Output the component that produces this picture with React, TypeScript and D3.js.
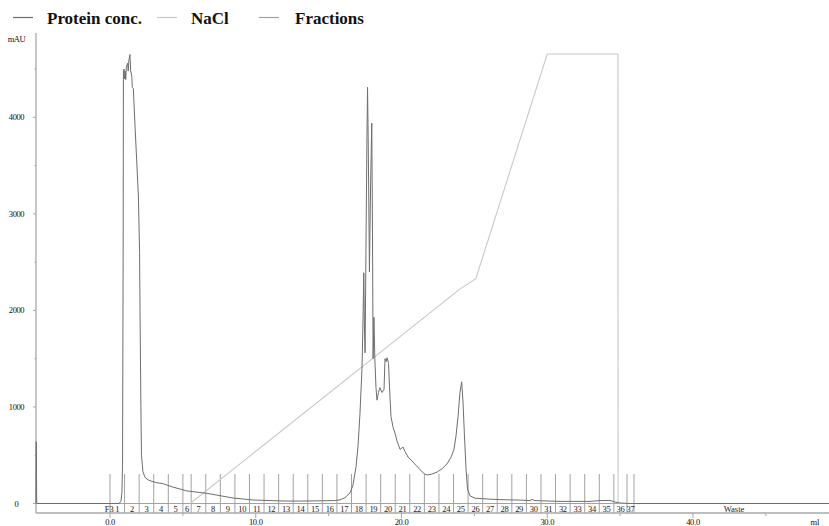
import React from "react";
import * as d3 from "d3";

// ---- Data ----
// Protein concentration (UV, mAU) vs volume (ml)
const proteinVolume = [
  -5.08, -5.06, -5.03, 0.6, 0.75, 0.82, 0.86, 0.9, 0.92, 0.96, 0.99, 1.03, 1.08, 1.12, 1.21, 1.25, 1.3, 1.37,
  1.42, 1.5, 1.53, 1.6, 1.72, 1.84, 1.95, 2.03, 2.06, 2.12, 2.16, 2.26, 2.4, 2.61, 2.95, 3.22, 3.64, 4.32,
  5.28, 6.66, 8.44, 9.81, 11.87, 13.0, 14.4, 15.4, 15.78, 16.12, 16.47, 16.67, 16.88, 17.02, 17.15, 17.29,
  17.36, 17.41, 17.45, 17.5, 17.56, 17.63, 17.67, 17.72, 17.8, 17.88, 17.96, 18.01, 18.05, 18.11, 18.17,
  18.25, 18.32, 18.42, 18.52, 18.66, 18.8, 18.87, 18.94, 19.01, 19.11, 19.21, 19.28, 19.42, 19.55, 19.69,
  19.9, 20.1, 20.24, 20.45, 20.73, 21.0, 21.27, 21.55, 21.75, 22.09, 22.44, 22.78, 23.12, 23.4, 23.6, 23.74,
  23.88, 24.01, 24.13, 24.22, 24.32, 24.43, 24.53, 24.7, 25.04, 26.07, 26.76, 28.13, 28.82, 28.95, 29.16,
  30.87, 32.93, 33.62, 34.3, 34.65, 35.0, 35.7, 49.4,
];
const proteinMAU = [
  0, 640, 0, 0, 20, 120, 400, 2500, 4450, 4500, 4400, 4480, 4390, 4520, 4560, 4480, 4600, 4650,
  4480, 4420, 4310, 4300, 3900, 3525, 3175, 2600, 2000, 1000, 500, 330, 270, 245, 225, 215, 205, 170,
  130, 105, 57, 36, 26, 25, 28, 30, 38, 60, 110, 190, 380, 600, 930, 1400,
  1900, 2390, 1900, 1560, 2600, 3800, 4310, 3700, 2400, 3300, 3940, 2800, 1500, 1930, 1500,
  1200, 1070, 1150, 1200, 1150, 1180, 1500, 1470, 1510, 1450, 1100, 900, 790, 730, 650,
  560, 585, 540, 480, 440, 395, 350, 310, 295, 305, 325, 360, 410, 480, 560, 700,
  900, 1150, 1260, 1050, 700, 350, 150, 80, 55, 45, 40, 35, 30, 42, 30,
  22, 22, 30, 32, 15, 5, 0, 0,
];

// NaCl gradient (% B) vs volume (ml)
const naclVolume = [5.5, 24.0, 25.1, 30.0, 34.85, 34.86, 49.4];
const naclPercent = [0, 47.7, 50, 100, 100, 0, 0];

// Fraction boundaries (ml) and labels
const fractionBounds = [
  0, 1, 2, 3, 4, 5, 5.57, 6.57, 7.57, 8.57, 9.57, 10.57, 11.57, 12.57, 13.57, 14.57, 15.57, 16.57, 17.57,
  18.57, 19.57, 20.57, 21.57, 22.57, 23.57, 24.57, 25.57, 26.57, 27.57, 28.57, 29.57, 30.57, 31.57,
  32.57, 33.57, 34.57, 35.47, 35.95,
];
const fractionLabels = Array.from({ length: 37 }, (_, i) => String(i + 1));
const wasteLabel = "Waste";
const preLabel = "F3";

const yTicks = [0, 1000, 2000, 3000, 4000];
const yMinorTicks = [500, 1500, 2500, 3500, 4500];
const xTicks = [0, 10, 20, 30, 40];
const xMinorTicks = [5, 15, 25, 35, 45];

const legendItems = ["Protein conc.", "NaCl", "Fractions"];

// ---- Styles ----
const W = 829;
const H = 526;
const serif = "'Liberation Serif', 'Times New Roman', serif";
const cProtein = "#6e6e6e";
const cNaCl = "#c8c8c8";
const cFrac = "#a2a2a2";
const cAxis = "#a8a8a8";

export default function App() {
  const x = d3.scaleLinear().domain([0, 40]).range([110, 693]);
  const y = d3.scaleLinear().domain([0, 4000]).range([503.5, 117.3]);
  const yNaCl = d3.scaleLinear().domain([0, 100]).range([503.5, 54]);

  const axisX = x(-5.08);
  const axisY = 513;
  const yTop = 33;
  const xRight = W;

  const protein = proteinVolume.map((v, i) => [v, proteinMAU[i]] as [number, number]);
  const nacl = naclVolume.map((v, i) => [v, naclPercent[i]] as [number, number]);

  const pLine = d3
    .line<[number, number]>()
    .x((d) => x(d[0]))
    .y((d) => y(d[1]));
  const nLine = d3
    .line<[number, number]>()
    .x((d) => x(d[0]))
    .y((d) => yNaCl(d[1]));

  const fracTop = 474;
  const zeroY = y(0);

  const legendX = [13, 157, 259];
  const legendTextX = [47, 191, 295];
  const legendColors = [cProtein, cNaCl, cFrac];

  return (
    <svg
      width={W}
      height={H}
      style={{ position: "absolute", left: 0, top: 0, background: "#fff" }}
    >
      <rect width={W} height={H} fill="#fff" />
      {/* Legend */}
      {legendItems.map((t, i) => (
        <g key={t}>
          <line
            x1={legendX[i]}
            x2={legendX[i] + 20}
            y1={17.5}
            y2={17.5}
            stroke={legendColors[i]}
            strokeWidth={1.2}
          />
          <text
            x={legendTextX[i]}
            y={24}
            fontFamily={serif}
            fontWeight="bold"
            fontSize={17}
            fill="#111"
          >
            {t}
          </text>
        </g>
      ))}

      {/* Y axis */}
      <line x1={axisX} x2={axisX} y1={yTop} y2={axisY} stroke={cAxis} strokeWidth={1.3} />
      {yTicks.map((t) => (
        <g key={t}>
          <line x1={axisX - 3} x2={axisX} y1={y(t)} y2={y(t)} stroke={cAxis} />
          <text
            x={16.5}
            y={y(t) + 3}
            textAnchor="middle"
            fontFamily={serif}
            fontSize={8.5}
            letterSpacing={-0.4}
            fill="#111"
          >
            {t}
          </text>
        </g>
      ))}
      {yMinorTicks.map((t) => (
        <line key={t} x1={axisX - 1.5} x2={axisX + 0.5} y1={y(t)} y2={y(t)} stroke={cAxis} />
      ))}
      <text x={16.5} y={41.5} textAnchor="middle" fontFamily={serif} fontSize={8.5} letterSpacing={-0.4} fill="#111">
        mAU
      </text>

      {/* X axis */}
      <line x1={axisX} x2={xRight} y1={axisY} y2={axisY} stroke={cAxis} strokeWidth={1.3} />
      {xTicks.map((t) => (
        <g key={t}>
          <line x1={x(t)} x2={x(t)} y1={axisY} y2={axisY + 5} stroke={cAxis} />
          <text
            x={x(t)}
            y={525}
            textAnchor="middle"
            fontFamily={serif}
            fontSize={8.5}
            letterSpacing={-0.3}
            fill="#111"
          >
            {t.toFixed(1)}
          </text>
        </g>
      ))}
      {xMinorTicks.map((t) => (
        <line key={t} x1={x(t)} x2={x(t)} y1={axisY} y2={axisY + 3} stroke={cAxis} />
      ))}
      <text x={815} y={525} textAnchor="middle" fontFamily={serif} fontSize={8.5} fill="#111">
        ml
      </text>

      {/* Fractions */}
      <line x1={x(0)} x2={xRight} y1={zeroY} y2={zeroY} stroke={cFrac} />
      {fractionBounds.map((b, i) => (
        <line key={i} x1={x(b)} x2={x(b)} y1={fracTop} y2={axisY} stroke={cFrac} />
      ))}
      {fractionLabels.map((l, i) => (
        <text
          key={l}
          x={(x(fractionBounds[i]) + x(fractionBounds[i + 1])) / 2}
          y={511.5}
          textAnchor="middle"
          fontFamily={serif}
          fontSize={8.5}
          letterSpacing={-0.3}
          fill="#222"
        >
          {l}
        </text>
      ))}
      <text x={x(-0.05)} y={511.5} textAnchor="middle" fontFamily={serif} fontSize={8.5} fill="#222">
        {preLabel}
      </text>
      <text
        x={734}
        y={511.5}
        textAnchor="middle"
        fontFamily={serif}
        fontSize={8.5}
        fill="#222"
      >
        {wasteLabel}
      </text>

      {/* NaCl gradient */}
      <path d={nLine(nacl) || ""} fill="none" stroke={cNaCl} strokeWidth={1.1} />

      {/* Protein */}
      <path d={pLine(protein) || ""} fill="none" stroke={cProtein} strokeWidth={1} />
    </svg>
  );
}
